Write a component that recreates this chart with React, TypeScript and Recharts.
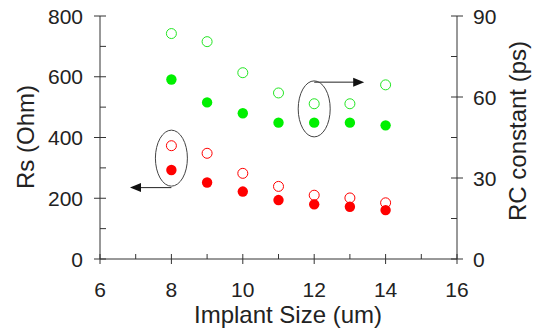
import React from 'react';
import { ScatterChart, Scatter, XAxis, YAxis, ReferenceDot, ReferenceLine } from 'recharts';

const implantSizes = [8, 9, 10, 11, 12, 13, 14];
const rsOpen = [373, 348, 282, 239, 210, 201, 185];
const rsFilled = [293, 252, 222, 194, 180, 172, 161];
const rcOpen = [83.5, 80.5, 69, 61.5, 57.5, 57.5, 64.5];
const rcFilled = [66.5, 58, 54, 50.5, 50.5, 50.5, 49.5];

const xTicks = [6, 7, 8, 9, 10, 11, 12, 13, 14, 15, 16];
const xMajor = [6, 8, 10, 12, 14, 16];
const rsTicks = [0, 100, 200, 300, 400, 500, 600, 700, 800];
const rsMajor = [0, 200, 400, 600, 800];
const rcTicks = [0, 15, 30, 45, 60, 75, 90];
const rcMajor = [0, 30, 60, 90];

// annotation anchors (data coordinates)
const rsEllipse = { x: 8, y: 332 };
const rsArrow = [{ x: 8, y: 235 }, { x: 6.84, y: 235 }];
const rcEllipse = { x: 12, y: 55.6 };
const rcArrow = [{ x: 12, y: 65.5 }, { x: 13.4, y: 65.5 }];

const toPts = (ys: number[]) => implantSizes.map((x, i) => ({ x, y: ys[i] }));

const RED = '#ff0000';
const GREEN = '#00f000';
const GREEN_OPEN = '#22e622';
const FONT = '"Liberation Sans", Arial, sans-serif';
const AXIS = '#333';

const FilledDot = (color: string) => (p: any) => (
  <circle cx={p.cx} cy={p.cy} r={5.2} fill={color} stroke="none" />
);
const OpenDot = (color: string) => (p: any) => (
  <circle cx={p.cx} cy={p.cy} r={5} fill="none" stroke={color} strokeWidth={1} />
);

const XTick = (p: any) => {
  const v = p.payload.value;
  const major = xMajor.includes(v);
  return (
    <g>
      <line x1={p.x} x2={p.x} y1={p.y - 5} y2={major ? p.y + 5 : p.y} stroke={AXIS} />
      {major && (
        <text x={p.x} y={p.y + 38} textAnchor="middle" fontSize={21} fill="#222" fontFamily={FONT}>
          {v}
        </text>
      )}
    </g>
  );
};

const LeftTick = (p: any) => {
  const v = p.payload.value;
  const major = rsMajor.includes(v);
  return (
    <g>
      <line x1={major ? p.x - 6 : p.x} x2={p.x + 6} y1={p.y} y2={p.y} stroke={AXIS} />
      {major && (
        <text x={p.x - 17} y={p.y} dy="0.36em" textAnchor="end" fontSize={21} fill="#222" fontFamily={FONT}>
          {v}
        </text>
      )}
    </g>
  );
};

const RightTick = (p: any) => {
  const v = p.payload.value;
  const major = rcMajor.includes(v);
  return (
    <g>
      <line x1={p.x - 6} x2={major ? p.x + 6 : p.x} y1={p.y} y2={p.y} stroke={AXIS} />
      {major && (
        <text x={p.x + 16} y={p.y} dy="0.36em" textAnchor="start" fontSize={21} fill="#222" fontFamily={FONT}>
          {v}
        </text>
      )}
    </g>
  );
};

const Arrow = (p: any) => {
  const { x1, y1, x2, y2 } = p;
  const dir = x2 > x1 ? 1 : -1;
  return (
    <g>
      <line x1={x1} y1={y1} x2={x2 - dir * 8} y2={y2} stroke="#222" strokeWidth={1} />
      <polygon
        points={`${x2},${y2} ${x2 - dir * 11},${y2 - 4.5} ${x2 - dir * 11},${y2 + 4.5}`}
        fill="#111"
      />
    </g>
  );
};

const Ellipse = (p: any) => (
  <ellipse cx={p.cx} cy={p.cy} rx={16} ry={28} fill="none" stroke="#444" strokeWidth={1} />
);

export default function App() {
  return (
    <div style={{ position: 'absolute', left: 0, top: 0, background: '#fff', fontFamily: FONT }}>
      <ScatterChart width={533} height={333} margin={{ top: 16, right: 0, bottom: 0, left: 0 }}>
        <XAxis
          type="number"
          dataKey="x"
          domain={[6, 16]}
          ticks={xTicks}
          interval={0}
          height={74}
          tickSize={0}
          tickMargin={0}
          tickLine={false}
          stroke={AXIS}
          tick={<XTick />}
          label={{
            content: (lp: any) => {
              const vb = lp.viewBox;
              return (
                <text x={288} y={vb.y + 64} textAnchor="middle" fontSize={24} fill="#222" fontFamily={FONT}>
                  Implant Size (um)
                </text>
              );
            },
          }}
        />
        <YAxis
          yAxisId="left"
          type="number"
          dataKey="y"
          domain={[0, 800]}
          ticks={rsTicks}
          interval={0}
          width={100}
          tickSize={0}
          tickMargin={0}
          tickLine={false}
          stroke={AXIS}
          tick={<LeftTick />}
          label={{
            content: (lp: any) => {
              const cy = 137;
              return (
                <text
                  x={25}
                  y={cy}
                  dy="0.36em"
                  textAnchor="middle"
                  transform={`rotate(-90, 25, ${cy})`}
                  fontSize={24}
                  fill="#222"
                  fontFamily={FONT}
                >
                  Rs (Ohm)
                </text>
              );
            },
          }}
        />
        <YAxis
          yAxisId="right"
          orientation="right"
          type="number"
          dataKey="y"
          domain={[0, 90]}
          ticks={rcTicks}
          interval={0}
          width={76}
          tickSize={0}
          tickMargin={0}
          tickLine={false}
          stroke={AXIS}
          tick={<RightTick />}
          label={{
            content: (lp: any) => {
              const cy = 131;
              return (
                <text
                  x={517}
                  y={cy}
                  dy="0.36em"
                  textAnchor="middle"
                  transform={`rotate(-90, 517, ${cy})`}
                  fontSize={24}
                  fill="#222"
                  fontFamily={FONT}
                >
                  RC constant (ps)
                </text>
              );
            },
          }}
        />
        <Scatter yAxisId="right" data={toPts(rcOpen)} shape={OpenDot(GREEN_OPEN)} isAnimationActive={false} />
        <Scatter yAxisId="right" data={toPts(rcFilled)} shape={FilledDot(GREEN)} isAnimationActive={false} />
        <Scatter yAxisId="left" data={toPts(rsOpen)} shape={OpenDot(RED)} isAnimationActive={false} />
        <Scatter yAxisId="left" data={toPts(rsFilled)} shape={FilledDot(RED)} isAnimationActive={false} />
        <ReferenceDot yAxisId="left" x={rsEllipse.x} y={rsEllipse.y} shape={Ellipse} ifOverflow="visible" />
        <ReferenceDot yAxisId="right" x={rcEllipse.x} y={rcEllipse.y} shape={Ellipse} ifOverflow="visible" />
        <ReferenceLine yAxisId="left" segment={rsArrow} shape={Arrow} ifOverflow="visible" />
        <ReferenceLine yAxisId="right" segment={rcArrow} shape={Arrow} ifOverflow="visible" />
      </ScatterChart>
    </div>
  );
}
